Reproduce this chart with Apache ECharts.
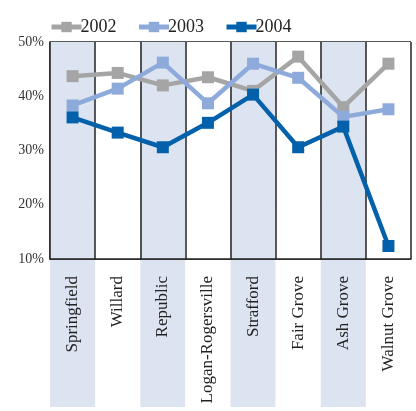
<!DOCTYPE html>
<html>
<head>
    <meta charset="utf-8">
    <title>Chart</title>
    <script src="https://cdn.jsdelivr.net/npm/echarts@6/dist/echarts.min.js"></script>
    <style>
        html, body { margin: 0; padding: 0; background: #fff; }
        #chart1 { width: 416px; height: 411px; }
    </style>
</head>
<body>
<div id="chart1"></div>
<script>
    // data
    var towns = ['Springfield', 'Willard', 'Republic', 'Logan-Rogersville', 'Strafford', 'Fair Grove', 'Ash Grove', 'Walnut Grove'];
    var years = ['2002', '2003', '2004'];
    var y2002 = [43.7, 44.3, 42.0, 43.5, 41.0, 47.3, 38.0, 46.0];
    var y2003 = [38.3, 41.4, 46.2, 38.7, 46.0, 43.4, 36.2, 37.6];
    var y2004 = [36.1, 33.3, 30.6, 35.1, 40.3, 30.6, 34.4, 12.4];
    var yTicks = [10, 20, 30, 40, 50];

    var colors = ['#a5a5a5', '#8eaadb', '#0361ab'];
    var font = 'Liberation Serif';

    var myChart = echarts.init(document.getElementById('chart1'));

    function lineSeries(name, data, color) {
        return {
            name: name,
            type: 'line',
            data: data,
            symbol: 'rect',
            symbolSize: 12,
            lineStyle: {color: color, width: 4.5},
            itemStyle: {color: color},
            z: 5
        };
    }

    myChart.setOption({
        animation: false,
        color: colors,
        legend: {
            top: 13,
            left: 44,
            itemWidth: 30,
            itemHeight: 13,
            itemGap: 20,
            lineStyle: {width: 5},
            textStyle: {fontFamily: font, fontSize: 18, color: '#222', padding: [0, 0, 0, -6]},
            data: years
        },
        grid: [
            {left: 50, right: 5, top: 42, bottom: 152},
            {left: 50, right: 5, top: 260, height: 147}
        ],
        xAxis: [
            {
                type: 'category',
                gridIndex: 0,
                data: towns,
                z: 3,
                axisLine: {lineStyle: {color: '#222', width: 1.5}},
                axisTick: {show: false},
                splitLine: {show: true, interval: 0, lineStyle: {color: '#222', width: 1.5}},
                splitArea: {show: true, interval: 0, areaStyle: {color: ['#dde4f1', '#ffffff']}},
                axisLabel: {
                    rotate: 90,
                    margin: 17,
                    interval: 0,
                    fontFamily: font,
                    fontSize: 17,
                    color: '#222'
                }
            },
            {
                type: 'category',
                gridIndex: 1,
                data: towns,
                z: 0,
                axisLine: {show: false},
                axisTick: {show: false},
                axisLabel: {show: false, interval: 0},
                splitLine: {show: false},
                splitArea: {show: true, interval: 0, areaStyle: {color: ['#dde4f1', '#ffffff']}}
            }
        ],
        yAxis: [
            {
                type: 'value',
                gridIndex: 0,
                min: yTicks[0],
                max: yTicks[yTicks.length - 1],
                interval: 10,
                axisLine: {show: true, lineStyle: {color: '#222', width: 1.5}},
                axisTick: {show: false},
                splitLine: {lineStyle: {color: '#222', width: 1.5}},
                axisLabel: {
                    formatter: '{value}%',
                    margin: 6,
                    fontFamily: font,
                    fontSize: 14,
                    color: '#333'
                }
            },
            {
                type: 'value',
                gridIndex: 1,
                show: false
            }
        ],
        series: [
            lineSeries(years[0], y2002, colors[0]),
            lineSeries(years[1], y2003, colors[1]),
            lineSeries(years[2], y2004, colors[2])
        ]
    });
</script>
</body>
</html>
